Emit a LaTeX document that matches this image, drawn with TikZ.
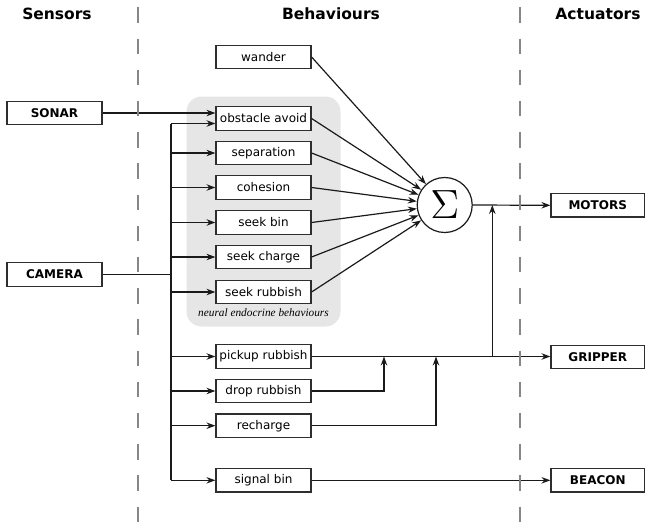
\documentclass[tikz,border=0pt]{standalone}
\usepackage{fontspec}
\setmainfont{DejaVu Sans}
\newfontfamily\notefont{Liberation Serif}
\usetikzlibrary{arrows.meta}
\definecolor{boxline}{HTML}{2E2E2E}
\definecolor{groupfill}{HTML}{E6E6E6}
\definecolor{divider}{HTML}{868686}
\definecolor{wirecol}{HTML}{1A1A1A}
\begin{document}
\begin{tikzpicture}[x=1pt,y=-1pt,
  every node/.style={font=\fontsize{12}{14}\selectfont},
  unit/.style={draw=boxline,line width=1.2pt,fill=white,minimum width=95pt,
    minimum height=23.5pt,inner sep=0pt},
  io/.style={unit,font=\fontsize{12}{14}\selectfont\bfseries},
  heading/.style={font=\fontsize{15.5}{18}\selectfont\bfseries},
  link/.style={draw=wirecol,line width=1.2pt,-{Stealth[length=9pt,width=6.5pt,inset=3pt]}},
  wire/.style={draw=wirecol,line width=1.2pt},
  divline/.style={draw=divider,line width=2pt,dash pattern=on 15.4pt off 15.8pt}
]
\useasboundingbox (0,0) rectangle (645,523);

% column headings
\node[heading] (hsens) at (57,14) {Sensors};
\node[heading] (hbeh)  at (331,14) {Behaviours};
\node[heading] (hact)  at (598,14) {Actuators};

% neural endocrine group
\fill[groupfill,rounded corners=15pt] (186.5,96.5) rectangle (340.5,326.5);
\node[font=\notefont\itshape\fontsize{11.3}{13}\selectfont] (group) at (263.5,313) {neural endocrine behaviours};

% sensors
\node[io] (sonar)  at (54.5,113)   {SONAR};
\node[io] (camera) at (54.5,274.5) {CAMERA};

% behaviours
\node[unit] (wander)   at (263.5,57)    {wander};
\node[unit] (obstacle) at (263.5,118.5) {obstacle avoid};
\node[unit] (separ)    at (263.5,153)   {separation};
\node[unit] (cohes)    at (263.5,187.5) {cohesion};
\node[unit] (seekbin)  at (263.5,222.5) {seek bin};
\node[unit] (seekchg)  at (263.5,257)   {seek charge};
\node[unit] (seekrub)  at (263.5,292)   {seek rubbish};
\node[unit] (pickup)   at (263.5,356.5) {pickup rubbish};
\node[unit] (droprub)  at (263.5,391)   {drop rubbish};
\node[unit] (recharge) at (263.5,425.7) {recharge};
\node[unit] (signal)   at (263.5,480.3) {signal bin};

% summation
\node[draw=wirecol,line width=1.2pt,circle,minimum size=55pt,inner sep=0pt] (sum) at (444.7,205) {};
\node[scale=3.4] (sigma) at (sum) {$\Sigma$};

% actuators
\node[io,minimum width=93.5pt] (motors)  at (597.75,205.3) {MOTORS};
\node[io,minimum width=93.5pt] (gripper) at (597.75,357)   {GRIPPER};
\node[io,minimum width=93.5pt] (beacon)  at (597.75,480.3) {BEACON};

% sensor connections
\coordinate (trunk) at (171,0);
\coordinate (sonarin) at ([yshift=5.5pt]obstacle.west);
\coordinate (camin) at ([yshift=-5pt]obstacle.west);
\draw[link] (sonar.east) -- (sonarin);
\draw[wire] (camera.east) -- (camera.east -| trunk);
\draw[wire] (trunk |- camin) -- (trunk |- signal.west);
\draw[link] (trunk |- camin) -- (camin);
\foreach \b in {separ,cohes,seekbin,seekchg,seekrub,pickup,droprub,recharge,signal}
  \draw[link] (trunk |- \b.west) -- (\b.west);

% behaviours into the sum
\foreach \b in {wander,obstacle,separ,cohes,seekbin,seekchg,seekrub}
  \draw[link] (\b.east) -- (sum);

% outputs
\coordinate (jmot) at (492.3,0);
\coordinate (jdrop) at (384,0);
\coordinate (jrech) at (436,0);
\draw[link] (sum.east) -- (motors.west);
\draw[link] (pickup.east) -- (gripper.west |- pickup.east);
\draw[link] (jmot |- pickup.east) -- (jmot |- sum.east);
\draw[link] (droprub.east) -| (jdrop |- pickup.east);
\draw[link] (recharge.east) -| (jrech |- pickup.east);
\draw[link] (signal.east) -- (beacon.west);

% column dividers
\draw[divline] (137.5,7.3) -- (137.5,523);
\draw[divline] (520,7.3) -- (520,523);
\end{tikzpicture}
\end{document}
